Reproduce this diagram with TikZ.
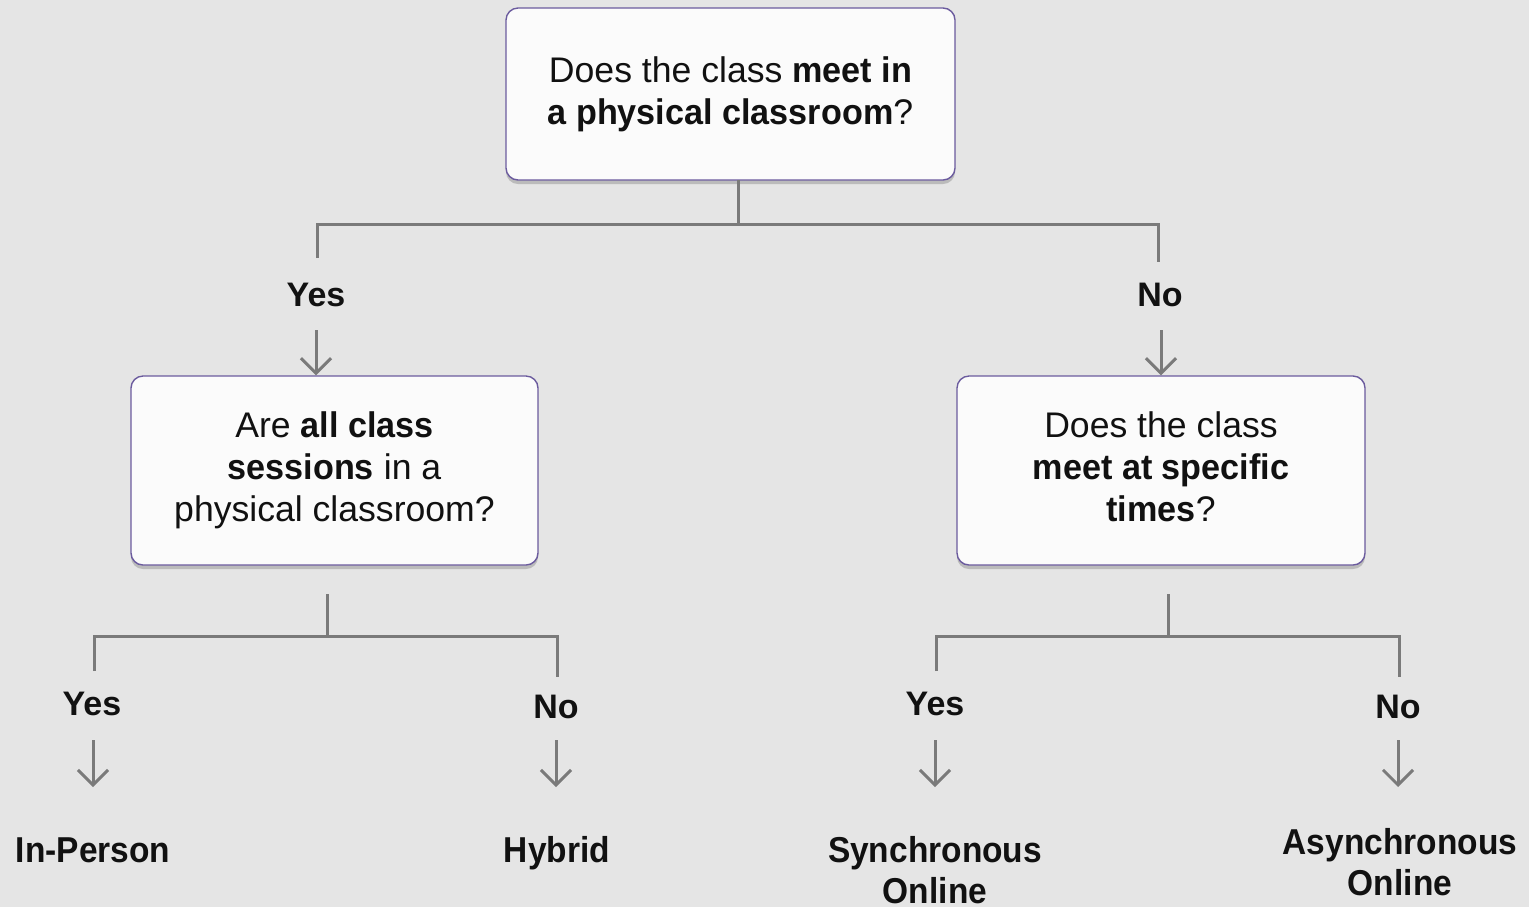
\documentclass[tikz,border=0pt]{standalone}
\usepackage{fontspec}
\setmainfont{Liberation Sans}[BoldFeatures={FakeStretch=0.96}]
\newfontfamily\condbold[FakeStretch=0.93]{Liberation Sans Bold}
\newfontfamily\lblbold{Liberation Sans Bold}
\usetikzlibrary{arrows.meta,shadows}
\definecolor{bgc}{HTML}{E5E5E5}
\definecolor{boxfill}{HTML}{FBFBFB}
\definecolor{boxline}{HTML}{6B5B9E}
\definecolor{linec}{HTML}{7A7A7A}
\definecolor{txt}{HTML}{111111}
\tikzset{
  qbox/.style={draw=boxline, line width=0.7pt, fill=boxfill, rounded corners=6pt,
    align=center, text=txt, font=\fontsize{17.8}{21}\selectfont,
    drop shadow={shadow xshift=0pt, shadow yshift=-2pt, fill=black, opacity=0.18}},
  conn/.style={draw=linec, line width=1.5pt},
  arr/.style={draw=linec, line width=1.5pt, -{Straight Barb[length=7.5pt,width=15pt,line width=1.5pt]}},
  lbl/.style={text=txt, font=\fontsize{17}{21}\selectfont\lblbold, inner sep=0pt},
  leaf/.style={text=txt, font=\fontsize{18}{20.5}\selectfont\condbold, align=center, inner sep=0pt},
}
\begin{document}
\begin{tikzpicture}[x=0.5pt,y=-0.5pt]
\fill[bgc] (0,0) rectangle (1529,907);
\useasboundingbox (0,0) rectangle (1529,907);

% boxes
\node[qbox, minimum width=224.5pt, minimum height=86pt] (top) at (730.5,94)
  {Does the class \textbf{meet in}\\\textbf{a physical classroom}?};
\node[qbox, minimum width=203.5pt, minimum height=94.5pt] (left) at (334.5,470.5)
  {Are \textbf{all class}\\\textbf{sessions} in a\\physical classroom?};
\node[qbox, minimum width=204pt, minimum height=94.5pt] (right) at (1161,470.5)
  {Does the class\\\textbf{meet at specific}\\\textbf{times}?\vphantom{y}};

% level-1 labels
\node[lbl] (yes1) at (316,295) {Yes};
\node[lbl] (no1) at (1160,295) {No};

% level-1 connectors
\coordinate (t0) at (738,180);
\coordinate (t1) at (738,224);
\coordinate (a1) at (317,258);
\coordinate (b1) at (1158,224);
\coordinate (b2) at (1158,262);
\draw[conn] (t0) -- (t1);
\draw[conn] (a1) |- (b1) -- (b2);
\coordinate (ya) at (316,330);
\coordinate (na) at (1161,330);
\draw[arr] (ya) -- (ya |- left.north);
\draw[arr] (na) -- (na |- right.north);

% level-2 left
\node[lbl] (yes2) at (92,704) {Yes};
\node[lbl] (no2) at (556,707) {No};
\coordinate (l0) at (327,594);
\coordinate (l1) at (327,636);
\coordinate (l2) at (94,671);
\coordinate (l3) at (557,636);
\coordinate (l4) at (557,677);
\draw[conn] (l0) -- (l1);
\draw[conn] (l2) |- (l3) -- (l4);

% level-2 right
\node[lbl] (yes3) at (935,704) {Yes};
\node[lbl] (no3) at (1398,707) {No};
\coordinate (r0) at (1168,594);
\coordinate (r1) at (1168,636);
\coordinate (r2) at (936,671);
\coordinate (r3) at (1399,636);
\coordinate (r4) at (1399,677);
\draw[conn] (r0) -- (r1);
\draw[conn] (r2) |- (r3) -- (r4);

% leaves
\node[leaf, anchor=base] (inp) at (93,862) {In-Person};
\node[leaf, anchor=base] (hyb) at (557,862) {Hybrid};
\node[leaf] (syn) at (935,870) {Synchronous\\Online};
\node[leaf] (asy) at (1400,862) {Asynchronous\\Online};

% leaf arrows
\coordinate (e1) at (93,740);  \coordinate (f1) at (93,787);
\coordinate (e2) at (556,740); \coordinate (f2) at (556,787);
\coordinate (e3) at (935,740); \coordinate (f3) at (935,787);
\coordinate (e4) at (1398,740);\coordinate (f4) at (1398,787);
\draw[arr] (e1) -- (f1);
\draw[arr] (e2) -- (f2);
\draw[arr] (e3) -- (f3);
\draw[arr] (e4) -- (f4);
\end{tikzpicture}
\end{document}
